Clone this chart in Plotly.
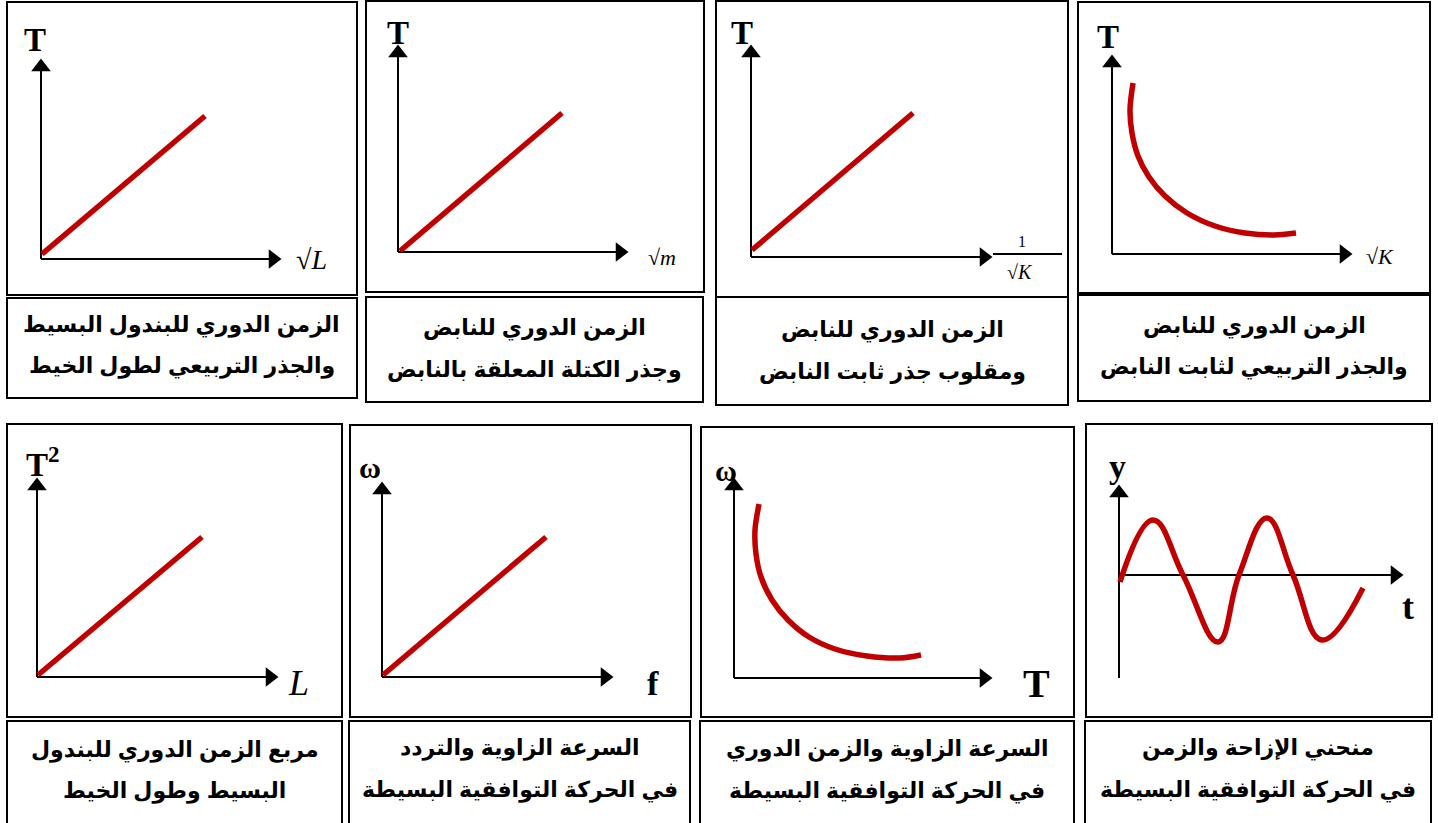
import plotly.graph_objects as go

W, H = 1438, 823
RED = "#C00000"

# ---- data: every curve is measured from its own origin (x right, y up) ----
# straight-line graphs: start and end of the red line
p1_x = [1, 164]
p1_y = [5, 143]
p2_x = [2, 164]
p2_y = [1, 139]
p3_x = [1, 162]
p3_y = [7, 144]
p5_x = [1, 165]
p5_y = [2, 140]
p6_x = [1, 164]
p6_y = [2, 140]

# inverse curves
p4_x = [21, 18, 20, 26, 37, 53, 75, 103, 133, 162, 184]
p4_y = [171, 144, 121, 98, 77, 58, 41, 28, 21, 19, 21]
p7_x = [25, 21, 22, 27, 38, 54, 75, 101, 133, 166, 187]
p7_y = [174, 148, 124, 101, 78, 58, 41, 29, 22, 20, 23]

# displacement vs time
p8_x = [1, 34, 64, 99, 120, 148, 174, 203, 244]
p8_y = [-7, 55, 0, -67, 0, 57, 0, -65, -13]

# axis lengths (x arrow tip, y arrow tip, y axis bottom)
axis_x_end = [240, 230, 241, 240, 241, 231, 258, 284]
axis_y_end = [200, 207, 212, 199, 199, 195, 200, 90]
axis_y_start = [0, 0, 0, 0, 0, 0, 0, -103]

captions = [
    ["الزمن الدوري للبندول البسيط", "والجذر التربيعي لطول الخيط"],
    ["الزمن الدوري للنابض", "وجذر الكتلة المعلقة بالنابض"],
    ["الزمن الدوري للنابض", "ومقلوب جذر ثابت النابض"],
    ["الزمن الدوري للنابض", "والجذر التربيعي لثابت النابض"],
    ["مربع الزمن الدوري للبندول", "البسيط وطول الخيط"],
    ["السرعة الزاوية والتردد", "في الحركة التوافقية البسيطة"],
    ["السرعة الزاوية والزمن الدوري", "في الحركة التوافقية البسيطة"],
    ["منحني الإزاحة والزمن", "في الحركة التوافقية البسيطة"],
]

# ---- layout of the page (pixels) ----
graph_boxes = [(7, 2, 357, 295), (366, 1, 704, 292), (716, 1, 1068, 297), (1078, 2, 1430, 293),
               (7, 424, 342, 717), (350, 425, 691, 717), (701, 427, 1074, 717), (1086, 424, 1432, 717)]
text_boxes = [(7, 298, 357, 398), (366, 297, 703, 402), (716, 297, 1068, 405), (1078, 295, 1430, 401),
              (7, 721, 342, 830), (349, 721, 690, 830), (700, 721, 1074, 830), (1085, 721, 1431, 830)]
origins = [(41, 259), (398, 252), (751, 257), (1112, 254), (37, 677), (382, 677), (734, 678), (1119, 575)]
caption_y = [(325, 366), (328, 370), (330, 372), (326, 367), (750, 791), (748, 790), (749, 791), (748, 790)]
HEAD = 17          # arrow head size in px
HALF = 8           # distance from head centre to its tip


def fx(x):
    return x / W


def fy(y):
    return 1 - y / H


fig = go.Figure()
curves = [(p1_x, p1_y, "linear", 1), (p2_x, p2_y, "linear", 1), (p3_x, p3_y, "linear", 1),
          (p4_x, p4_y, "spline", 0.9), (p5_x, p5_y, "linear", 1), (p6_x, p6_y, "linear", 1),
          (p7_x, p7_y, "spline", 0.9), (p8_x, p8_y, "spline", 1.2)]

shapes = []
for i in range(8):
    n = "" if i == 0 else str(i + 1)
    l, t, r, b = graph_boxes[i]
    ox, oy = origins[i]
    fig.update_layout({
        "xaxis" + n: dict(domain=[fx(l), fx(r)], range=[l - ox, r - ox], visible=False, fixedrange=True,
                          anchor="y" + n),
        "yaxis" + n: dict(domain=[fy(b), fy(t)], range=[oy - b, oy - t], visible=False, fixedrange=True,
                          anchor="x" + n),
    })
    xa, ya = "x" + n, "y" + n
    # axes
    fig.add_trace(go.Scatter(x=[0, axis_x_end[i] - HALF], y=[0, 0], mode="lines", xaxis=xa, yaxis=ya,
                             line=dict(color="black", width=2)))
    fig.add_trace(go.Scatter(x=[0, 0], y=[axis_y_start[i], axis_y_end[i] - HALF], mode="lines",
                             xaxis=xa, yaxis=ya, line=dict(color="black", width=2)))
    # arrow heads
    fig.add_trace(go.Scatter(x=[axis_x_end[i] - HALF], y=[0], mode="markers", xaxis=xa, yaxis=ya,
                             marker=dict(symbol="triangle-right", size=HEAD, color="black",
                                         line=dict(width=0))))
    fig.add_trace(go.Scatter(x=[0], y=[axis_y_end[i] - HALF], mode="markers", xaxis=xa, yaxis=ya,
                             marker=dict(symbol="triangle-up", size=HEAD, color="black",
                                         line=dict(width=0))))
    cx, cy, shape, smooth = curves[i]
    fig.add_trace(go.Scatter(x=cx, y=cy, mode="lines", xaxis=xa, yaxis=ya,
                             line=dict(color=RED, width=5.5, shape=shape, smoothing=smooth)))
    # boxes
    for (bl, bt, br, bb) in (graph_boxes[i], text_boxes[i]):
        shapes.append(dict(type="rect", xref="paper", yref="paper", x0=fx(bl), x1=fx(br), y0=fy(bb), y1=fy(bt),
                           line=dict(color="black", width=2)))

annotations = []


def label(i, text, x, y, size, family="Liberation Serif"):
    n = "" if i == 0 else str(i + 1)
    annotations.append(dict(text=text, x=x, y=y, xref="x" + n, yref="y" + n, showarrow=False,
                            xanchor="center", yanchor="middle",
                            font=dict(family=family, size=size, color="black")))


label(0, "<b>T</b>", -6, 219, 33)
label(0, "√<i>L</i>", 270, -1, 28)
label(1, "<b>T</b>", 0, 219, 33)
label(1, "√<i>m</i>", 264, -5, 22)
label(2, "<b>T</b>", -9, 224, 33)
label(2, "1", 271, 15, 16)
label(2, "√<i>K</i>", 269, -15, 20)
label(3, "<b>T</b>", -4, 217, 33)
label(3, "√<i>K</i>", 268, -3, 22)
label(4, "<b>T<sup>2</sup></b>", 6, 215, 33)
label(4, "<i>L</i>", 261, -6, 36)
label(5, "<b>ω</b>", -12, 210, 30)
label(5, "<b>f</b>", 271, -6, 34)
label(6, "<b>ω</b>", -8, 208, 30)
label(6, "<b>T</b>", 302, -5, 40)
label(7, "<b>y</b>", -2, 108, 34)
label(7, "<b>t</b>", 289, -32, 36)

# fraction bar of 1/sqrt(K)
shapes.append(dict(type="line", xref="x3", yref="y3", x0=242, x1=311, y0=3, y1=3,
                   line=dict(color="black", width=2)))

for i in range(8):
    l, t, r, b = text_boxes[i]
    for line_y, line_text in zip(caption_y[i], captions[i]):
        annotations.append(dict(text="<b>" + line_text + "</b>", x=fx((l + r) / 2), y=fy(line_y),
                                xref="paper", yref="paper", showarrow=False,
                                xanchor="center", yanchor="middle",
                                font=dict(family="Liberation Sans, DejaVu Sans, sans-serif", size=22,
                                          color="black")))

fig.update_layout(width=W, height=H, margin=dict(l=0, r=0, t=0, b=0), showlegend=False,
                  paper_bgcolor="white", plot_bgcolor="rgba(0,0,0,0)",
                  shapes=shapes, annotations=annotations)
fig.write_html("out.html", config={"displayModeBar": False},
               post_script="document.body.style.margin='0px';document.body.style.overflow='hidden';")
